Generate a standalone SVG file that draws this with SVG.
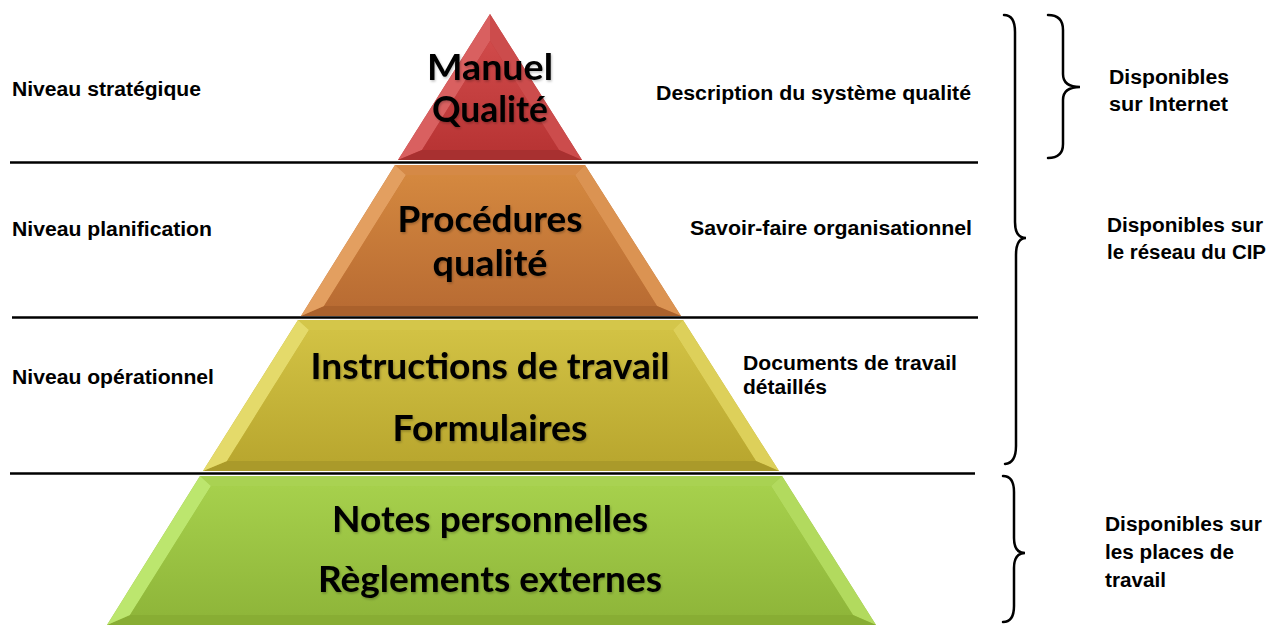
<svg xmlns="http://www.w3.org/2000/svg" width="1273" height="625" viewBox="0 0 1273 625">
<defs>
<linearGradient id="gRed" x1="0" y1="0" x2="0" y2="1"><stop offset="0" stop-color="#d04a4a"/><stop offset="1" stop-color="#b83434"/></linearGradient>
<linearGradient id="gOrange" x1="0" y1="0" x2="0" y2="1"><stop offset="0" stop-color="#d4883f"/><stop offset="1" stop-color="#b96c33"/></linearGradient>
<linearGradient id="gYellow" x1="0" y1="0" x2="0" y2="1"><stop offset="0" stop-color="#d2c244"/><stop offset="1" stop-color="#b9a72f"/></linearGradient>
<linearGradient id="gGreen" x1="0" y1="0" x2="0" y2="1"><stop offset="0" stop-color="#a6d04c"/><stop offset="1" stop-color="#8fb63a"/></linearGradient>
<filter id="sh" x="-10%" y="-20%" width="120%" height="140%"><feDropShadow dx="1" dy="1.5" stdDeviation="1.2" flood-color="#000" flood-opacity="0.25"/></filter>
</defs>
<style>
.big{font-family:Lato,"Open Sans",sans-serif;font-weight:bold;font-size:36px;fill:#000;text-anchor:middle}
.lbl{font-family:"Liberation Sans",Arial,sans-serif;font-weight:bold;font-size:20px;fill:#000}
.sep{stroke:#000;stroke-width:2.5;fill:none}
.brace{stroke:#000;stroke-width:2.5;fill:none;stroke-linecap:round}
</style>
<rect width="1273" height="625" fill="#fff"/>

<g id="level-strategique">
<polygon points="490,14 582,160 398,160" fill="#bf3b3b"/>
<polygon points="490,14 490,41 422,150 398,160" fill="#d96060"/>
<polygon points="490,14 582,160 559,150 490,41" fill="#cc4c4c"/>
<polygon points="398,160 582,160 559,150 422,150" fill="#a83030"/>
<polygon points="490,41 559,150 422,150" fill="url(#gRed)"/>
<text class="big" x="490" y="80" textLength="126" lengthAdjust="spacingAndGlyphs" filter="url(#sh)">Manuel</text>
<text class="big" x="490" y="122" textLength="116" lengthAdjust="spacingAndGlyphs" filter="url(#sh)">Qualité</text>
</g>

<g id="level-planification">
<polygon points="395,165 585,165 681,316 301,316" fill="#c87838"/>
<polygon points="395,165 585,165 575,175 406,175" fill="#d58946"/>
<polygon points="585,165 681,316 657,306 575,175" fill="#db9352"/>
<polygon points="681,316 301,316 324,306 657,306" fill="#aa612c"/>
<polygon points="301,316 395,165 406,175 324,306" fill="#e39f60"/>
<polygon points="406,175 575,175 657,306 324,306" fill="url(#gOrange)"/>
<text class="big" x="490" y="232" textLength="185" lengthAdjust="spacingAndGlyphs" filter="url(#sh)">Procédures</text>
<text class="big" x="490" y="276" textLength="115" lengthAdjust="spacingAndGlyphs" filter="url(#sh)">qualité</text>
</g>

<g id="level-operationnel">
<polygon points="298,320 683,320 779,471 203,471" fill="#c8b83a"/>
<polygon points="298,320 683,320 673,330 309,330" fill="#d4c64a"/>
<polygon points="683,320 779,471 756,461 673,330" fill="#ddd05a"/>
<polygon points="779,471 203,471 227,461 756,461" fill="#aa9a2a"/>
<polygon points="203,471 298,320 309,330 227,461" fill="#e4da6a"/>
<polygon points="309,330 673,330 756,461 227,461" fill="url(#gYellow)"/>
<text class="big" x="490" y="379" textLength="359" lengthAdjust="spacingAndGlyphs" filter="url(#sh)">Instructions de travail</text>
<text class="big" x="490" y="441" textLength="195" lengthAdjust="spacingAndGlyphs" filter="url(#sh)">Formulaires</text>
</g>

<g id="level-base">
<polygon points="200,476 782,476 876,625 107,625" fill="#9cc444"/>
<polygon points="200,476 782,476 771,486 211,486" fill="#a9d252"/>
<polygon points="782,476 876,625 853,615 771,486" fill="#b2da5e"/>
<polygon points="876,625 107,625 130,615 853,615" fill="#88ad34"/>
<polygon points="107,625 200,476 211,486 130,615" fill="#bce66e"/>
<polygon points="211,486 771,486 853,615 130,615" fill="url(#gGreen)"/>
<text class="big" x="490" y="532" textLength="316" lengthAdjust="spacingAndGlyphs" filter="url(#sh)">Notes personnelles</text>
<text class="big" x="490" y="592" textLength="344" lengthAdjust="spacingAndGlyphs" filter="url(#sh)">Règlements externes</text>
</g>

<g id="separators">
<line class="sep" x1="10" y1="162.5" x2="978" y2="162.5"/>
<line class="sep" x1="12" y1="317.5" x2="978" y2="317.5"/>
<line class="sep" x1="10" y1="473.5" x2="975" y2="473.5"/>
</g>

<g id="labels-left">
<text class="lbl" x="12" y="96" textLength="189" lengthAdjust="spacingAndGlyphs">Niveau stratégique</text>
<text class="lbl" x="12" y="236" textLength="200" lengthAdjust="spacingAndGlyphs">Niveau planification</text>
<text class="lbl" x="12" y="384" textLength="202" lengthAdjust="spacingAndGlyphs">Niveau opérationnel</text>
</g>

<g id="labels-right">
<text class="lbl" x="656" y="100" textLength="315" lengthAdjust="spacingAndGlyphs">Description du système qualité</text>
<text class="lbl" x="690" y="235" textLength="282" lengthAdjust="spacingAndGlyphs">Savoir-faire organisationnel</text>
<text class="lbl" x="743" y="370" textLength="214" lengthAdjust="spacingAndGlyphs">Documents de travail</text>
<text class="lbl" x="743" y="394" textLength="84" lengthAdjust="spacingAndGlyphs">détaillés</text>
</g>

<g id="braces">
<path class="brace" d="M1004,15 Q1015,15 1015,32 L1015,222 Q1015,238 1026,238 Q1016,238 1016,255 L1016,446 Q1016,463 1005,464"/>
<path class="brace" d="M1048,15 Q1063,15 1063,30 L1063,74 Q1063,87 1080,87 Q1063,87 1063,100 L1063,144 Q1063,158 1048,158"/>
<path class="brace" d="M1003,476 Q1014,476 1014,492 L1014,538 Q1014,553 1025,553 Q1014,553 1014,568 L1014,606 Q1014,622 1003,622"/>
</g>

<g id="availability">
<text class="lbl" x="1109" y="84" textLength="120" lengthAdjust="spacingAndGlyphs">Disponibles</text>
<text class="lbl" x="1109" y="111" textLength="119" lengthAdjust="spacingAndGlyphs">sur Internet</text>
<text class="lbl" x="1107" y="232" textLength="156" lengthAdjust="spacingAndGlyphs">Disponibles sur</text>
<text class="lbl" x="1107" y="259" textLength="159" lengthAdjust="spacingAndGlyphs">le réseau du CIP</text>
<text class="lbl" x="1105" y="531" textLength="157" lengthAdjust="spacingAndGlyphs">Disponibles sur</text>
<text class="lbl" x="1105" y="559" textLength="129" lengthAdjust="spacingAndGlyphs">les places de</text>
<text class="lbl" x="1105" y="587" textLength="61" lengthAdjust="spacingAndGlyphs">travail</text>
</g>
</svg>
